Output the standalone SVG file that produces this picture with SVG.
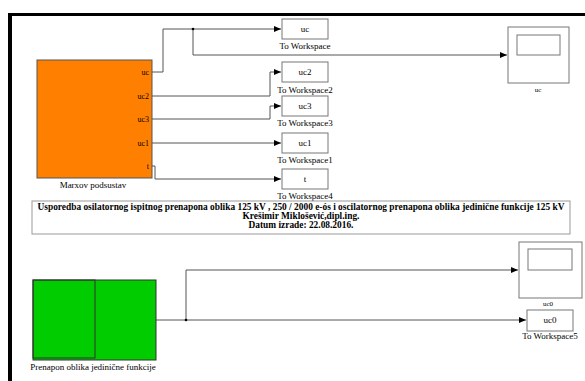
<svg xmlns="http://www.w3.org/2000/svg" width="585" height="381" viewBox="0 0 585 381" font-family="'Liberation Serif','DejaVu Serif',serif">
<defs>
<marker id="ah" markerWidth="8" markerHeight="6" refX="7" refY="3" orient="auto" markerUnits="userSpaceOnUse"><path d="M0,0 L7,3 L0,6 Z" fill="#000"/></marker>
<style>
text{font-family:'Liberation Serif','DejaVu Serif',serif;fill:#000}
.lbl{font-size:9px;text-anchor:middle}
.port{font-size:8px;text-anchor:end}
.blk{fill:#fff;stroke:#777;stroke-width:1}
.ln{fill:none;stroke:#555;stroke-width:1}
.ann{font-size:9.4px;font-weight:bold;text-anchor:middle}
</style>
</defs>
<rect width="585" height="381" fill="#fff"/>
<rect x="8" y="13" width="577" height="3" fill="#000"/>
<rect x="8" y="13" width="4" height="368" fill="#000"/>

<g id="connectors">
<polyline class="ln" points="152,72 163,72 163,29 281,29" marker-end="url(#ah)"/>
<polyline class="ln" points="193,29 193,55 507,55" marker-end="url(#ah)"/>
<circle cx="193" cy="29" r="1.3" fill="#000"/>
<polyline class="ln" points="152,96 270,96 270,72 281,72" marker-end="url(#ah)"/>
<polyline class="ln" points="152,119 270,119 270,106 281,106" marker-end="url(#ah)"/>
<polyline class="ln" points="152,143 281,143" marker-end="url(#ah)"/>
<polyline class="ln" points="152,166 155,166 155,179 281,179" marker-end="url(#ah)"/>
<polyline class="ln" points="156,320 526,320" marker-end="url(#ah)"/>
<polyline class="ln" points="186,320 186,270 518,270" marker-end="url(#ah)"/>
<circle cx="186" cy="320" r="1.3" fill="#000"/>
</g>

<g id="marx">
<rect x="37" y="60" width="115" height="118" fill="#ff8000" stroke="#555"/>
<text class="port" x="149" y="75">uc</text>
<text class="port" x="149" y="99">uc2</text>
<text class="port" x="149" y="122">uc3</text>
<text class="port" x="149" y="146">uc1</text>
<text class="port" x="149" y="169">t</text>
<text class="lbl" x="93" y="188">Marxov podsustav</text>
</g>

<g id="tw">
<rect class="blk" x="282" y="19" width="46" height="20"/>
<text class="lbl" x="305" y="32">uc</text>
<text class="lbl" x="305" y="49">To Workspace</text>
</g>
<g id="tw2">
<rect class="blk" x="282" y="62" width="46" height="20"/>
<text class="lbl" x="305" y="75">uc2</text>
<text class="lbl" x="305" y="93">To Workspace2</text>
</g>
<g id="tw3">
<rect class="blk" x="282" y="96" width="46" height="20"/>
<text class="lbl" x="305" y="109">uc3</text>
<text class="lbl" x="305" y="126">To Workspace3</text>
</g>
<g id="tw1">
<rect class="blk" x="282" y="133" width="46" height="20"/>
<text class="lbl" x="305" y="146">uc1</text>
<text class="lbl" x="305" y="163">To Workspace1</text>
</g>
<g id="tw4">
<rect class="blk" x="282" y="169" width="46" height="20"/>
<text class="lbl" x="305" y="182">t</text>
<text class="lbl" x="305" y="199">To Workspace4</text>
</g>

<g id="scope-uc">
<rect class="blk" x="508" y="27" width="61" height="56"/>
<rect class="blk" x="517" y="35" width="43" height="20"/>
<text class="lbl" x="538" y="92" style="font-size:7px">uc</text>
</g>

<g id="note">
<rect x="32" y="201" width="538" height="33" fill="#fff" stroke="#999"/>
<text class="ann" x="301" y="210">Usporedba osilatornog ispitnog prenapona oblika 125 kV , 250 / 2000 e-ós i oscilatornog prenapona oblika jedinične funkcije 125 kV</text>
<text class="ann" x="301" y="219">Krešimir Miklošević,dipl.ing.</text>
<text class="ann" x="301" y="228">Datum izrade: 22.08.2016.</text>
</g>

<g id="step">
<rect x="33" y="280" width="123" height="80" fill="#00cc00" stroke="#333"/>
<rect x="33" y="280" width="62" height="78" fill="none" stroke="#333"/>
<text class="lbl" x="93" y="370">Prenapon oblika jedinične funkcije</text>
</g>

<g id="scope-uc0">
<rect class="blk" x="519" y="242" width="63" height="56"/>
<rect class="blk" x="528" y="249" width="44" height="21"/>
<text class="lbl" x="548" y="306" style="font-size:7px">uc0</text>
</g>

<g id="tw5">
<rect class="blk" x="527" y="310" width="46" height="21"/>
<text class="lbl" x="550" y="323">uc0</text>
<text class="lbl" x="550" y="339">To Workspace5</text>
</g>
</svg>
